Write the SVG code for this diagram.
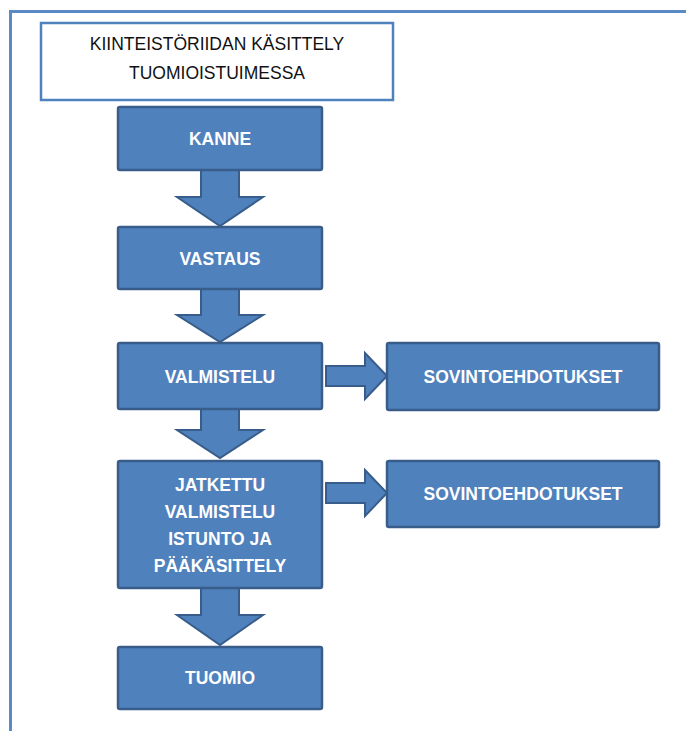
<svg xmlns="http://www.w3.org/2000/svg" width="686" height="731" viewBox="0 0 686 731">
<defs>
<style>
.frame{fill:none;stroke:#5a8ac4;stroke-width:3}
.title{fill:#fff;stroke:#4f81bd;stroke-width:2.5}
.ttxt{font-family:"Liberation Sans",Arial,sans-serif;font-size:17.5px;fill:#111;text-anchor:middle}
.box{fill:#4f81bd;stroke:#385d8a;stroke-width:2.5}
.btxt{font-family:"Liberation Sans",Arial,sans-serif;font-size:17.5px;font-weight:bold;fill:#fff;text-anchor:middle}
.arr{fill:#4f81bd;stroke:#385d8a;stroke-width:2;stroke-linejoin:miter}
</style>
</defs>
<rect width="686" height="731" fill="#fff"/>
<rect class="frame" x="10.5" y="11.5" width="690" height="740"/>
<g id="title">
<rect class="title" x="41" y="23" width="352" height="77"/>
<text class="ttxt" x="217" y="50">KIINTEISTÖRIIDAN KÄSITTELY</text>
<text class="ttxt" x="217" y="79">TUOMIOISTUIMESSA</text>
</g>
<g id="connectors">
<polygon class="arr" points="201,170 239,170 239,197 263,197 220,226 177,197 201,197"/>
<polygon class="arr" points="201,289 239,289 239,315 263,315 220,342 177,315 201,315"/>
<polygon class="arr" points="201,409 239,409 239,430 263,430 220,458 177,430 201,430"/>
<polygon class="arr" points="201,588 239,588 239,615 263,615 220,645 177,615 201,615"/>
<polygon class="arr" points="326,366 365,366 365,353 387,376 365,399 365,386 326,386"/>
<polygon class="arr" points="326,483 365,483 365,470 387,493 365,516 365,503 326,503"/>
</g>
<g id="kanne">
<rect class="box" x="118" y="107" width="204" height="63" rx="2"/>
<text class="btxt" x="220" y="145">KANNE</text>
</g>
<g id="vastaus">
<rect class="box" x="118" y="227" width="204" height="62" rx="2"/>
<text class="btxt" x="220" y="265">VASTAUS</text>
</g>
<g id="valmistelu">
<rect class="box" x="118" y="343" width="204" height="66" rx="2"/>
<text class="btxt" x="220" y="383">VALMISTELU</text>
</g>
<g id="jatkettu">
<rect class="box" x="118" y="461" width="204" height="127" rx="2"/>
<text class="btxt" x="220" y="491">JATKETTU</text>
<text class="btxt" x="220" y="518">VALMISTELU</text>
<text class="btxt" x="220" y="545">ISTUNTO JA</text>
<text class="btxt" x="220" y="572">PÄÄKÄSITTELY</text>
</g>
<g id="tuomio">
<rect class="box" x="118" y="647" width="204" height="62" rx="2"/>
<text class="btxt" x="220" y="684">TUOMIO</text>
</g>
<g id="sovinto1">
<rect class="box" x="387" y="343" width="272" height="67" rx="2"/>
<text class="btxt" x="523" y="383">SOVINTOEHDOTUKSET</text>
</g>
<g id="sovinto2">
<rect class="box" x="387" y="461" width="272" height="66" rx="2"/>
<text class="btxt" x="523" y="500">SOVINTOEHDOTUKSET</text>
</g>
</svg>
